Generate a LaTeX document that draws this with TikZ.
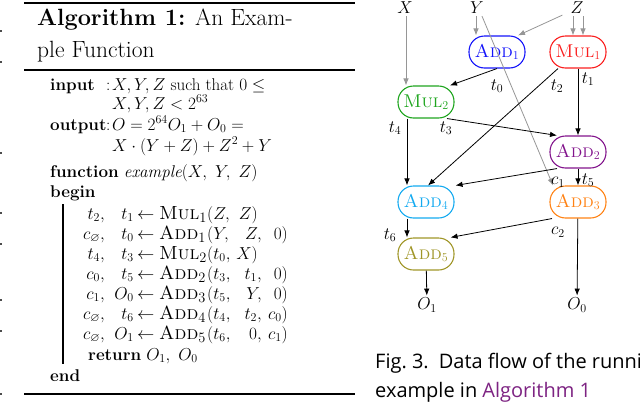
\documentclass[tikz,border=0pt]{standalone}
\usepackage{amssymb}
\usepackage{fontspec}
\newfontfamily\capfont{Open Sans}
\usetikzlibrary{arrows.meta,calc}
\definecolor{cadda}{RGB}{20,20,250}
\definecolor{cmula}{RGB}{250,30,30}
\definecolor{cmulb}{RGB}{30,165,30}
\definecolor{caddb}{RGB}{130,20,140}
\definecolor{caddc}{RGB}{255,130,20}
\definecolor{caddd}{RGB}{20,170,240}
\definecolor{cadde}{RGB}{160,150,40}
\definecolor{algpurple}{RGB}{125,35,130}
\definecolor{garr}{RGB}{150,150,150}
\tikzset{
  cb/.style={inner sep=0pt, font=\fontsize{17}{20}\selectfont},
  opname/.style={inner sep=0pt, font=\fontsize{19}{20}\selectfont},
  ttl/.style={inner sep=0pt, font=\fontsize{23.5}{27}\selectfont},
  opnode/.style={draw=#1, text=#1, line width=1.1pt, rounded corners=15.5pt,
     minimum width=56pt, minimum height=32pt, inner sep=0pt,
     font=\fontsize{18.5}{20}\selectfont},
  var/.style={inner sep=2pt, font=\fontsize{17}{20}\selectfont},
  lbl/.style={inner sep=0pt, font=\fontsize{17}{20}\selectfont},
  barr/.style={line width=0.8pt, -{Latex[length=7pt,width=5.5pt]}},
  garrow/.style={line width=0.8pt, draw=garr, -{Latex[length=7pt,width=5.5pt]}},
  rule/.style={line width=1.6pt},
  edgemark/.style={fill=black!70, draw=none},
}
% #1 name, #2 baseline, #3 col1, #4 col2, #5 op, #6 arg1, #7 arg2, #8 arg3, #9 right edge of arg2
\newcommand\coderow[9]{%
  \node[cb,anchor=base east] (#1a) at (105,#2) {#3};
  \node[cb,anchor=base east] (#1b) at (134,#2) {#4};
  \node[cb,anchor=base west] (#1c) at (137,#2) {$\leftarrow$};
  \node[opname,anchor=base west] (#1d) at (159,#2) {#5};
  \node[cb,anchor=base west] (#1e) at (207,#2) {$(#6$};
  \node[cb,anchor=base east] (#1f) at (#9,#2) {#7};
  \node[cb,anchor=base east] (#1g) at (288,#2) {#8};
}
\begin{document}
\begin{tikzpicture}[x=1pt,y=-1pt]
\useasboundingbox (0,0) rectangle (640,402);
\clip (0,0) rectangle (640,402);
% page edge marks
\foreach \yy in {30,61,152,212,243,299,330,393}{
  \fill[edgemark] (0,\yy) rectangle (2,\yy+1.5);
}
% ---------- algorithm ----------
\draw[rule] (24,3) -- (355,3);
\draw[rule] (24,70) -- (355,70);
\draw[rule] (24,394) -- (355,394);
\node[ttl,anchor=base west] (t1) at (37,25) {\textbf{Algorithm 1:} An Exam-};
\node[ttl,anchor=base west] (t2) at (37,57) {ple Function};

\node[cb,anchor=base west] (in) at (50,90) {\textbf{input}};
\node[cb,anchor=base west] (inc) at (106,90) {:};
\node[cb,anchor=base west] (ina) at (112,90) {$X, Y, Z$ such that $0 \leq$};
\node[cb,anchor=base west] (inb) at (112,109) {$X, Y, Z < 2^{63}$};
\node[cb,anchor=base west] (out) at (50,130) {\textbf{output}};
\node[cb,anchor=base west] (outc) at (106,130) {:};
\node[cb,anchor=base west] (outa) at (112,130) {$O = 2^{64}O_1 + O_0 =$};
\node[cb,anchor=base west] (outb) at (112,151) {$X\cdot(Y+Z)+Z^2+Y$};
\node[cb,anchor=base west] (fn) at (50,177) {\textbf{function} \textit{example}$(X,\ Y,\ Z)$};
\node[cb,anchor=base west] (bg) at (50,197) {\textbf{begin}};
\draw[line width=1.1pt] (63,204) -- (63,364);
\coderow{ra}{219}{$t_2,$}{$t_1$}{\textsc{Mul}$_1$}{Z,}{$Z)$}{}{258}
\coderow{rb}{239}{$c_\varnothing,$}{$t_0$}{\textsc{Add}$_1$}{Y,}{$Z,$}{$0)$}{262}
\coderow{rc}{259}{$t_4,$}{$t_3$}{\textsc{Mul}$_2$}{t_0,}{$X)$}{}{258}
\coderow{rd}{279}{$c_0,$}{$t_5$}{\textsc{Add}$_2$}{t_3,}{$t_1,$}{$0)$}{262}
\coderow{re}{299}{$c_1,$}{$O_0$}{\textsc{Add}$_3$}{t_5,}{$Y,$}{$0)$}{262}
\coderow{rf}{319}{$c_\varnothing,$}{$t_6$}{\textsc{Add}$_4$}{t_4,}{$t_2,$}{$c_0)$}{262}
\coderow{rg}{339}{$c_\varnothing,$}{$O_1$}{\textsc{Add}$_5$}{t_6,}{$0,$}{$c_1)$}{262}
\node[cb,anchor=base west] (ret) at (88,360) {\textbf{return} $O_1,\ O_0$};
\node[cb,anchor=base west] (en) at (50,381) {\textbf{end}};

% ---------- data flow graph ----------
\node[var] (X) at (405,8) {$X$};
\node[var] (Y) at (477,8) {$Y$};
\node[var] (Z) at (577,8) {$Z$};
\node[opnode=cadda] (Add1) at (497,52) {\textsc{Add}$_1$};
\node[opnode=cmula] (Mul1) at (578,52) {\textsc{Mul}$_1$};
\node[opnode=cmulb] (Mul2) at (426,102) {\textsc{Mul}$_2$};
\node[opnode=caddb] (Add2) at (578,152) {\textsc{Add}$_2$};
\node[opnode=caddd] (Add4) at (426,202) {\textsc{Add}$_4$};
\node[opnode=caddc] (Add3) at (578,202) {\textsc{Add}$_3$};
\node[opnode=cadde] (Add5) at (426,254) {\textsc{Add}$_5$};
\node[var] (O1) at (427,305) {$O_1$};
\node[var] (O0) at (577,305) {$O_0$};

% gray input arrows
\draw[garrow] ([xshift=1]X.south) -- ([xshift=1]X.south |- Mul2.north);
\draw[garrow] ([xshift=-1]Y.south) -- ([xshift=-1]Y.south |- Add1.north);
\draw[garrow] ([xshift=5]Y.south) -- ([xshift=-25]Add3.north);
\draw[garrow] ([xshift=-6,yshift=1]Z.south west) -- ([xshift=21]Add1.north);
\draw[garrow] ([xshift=-4]Z.south) -- ([xshift=-5]Mul1.north);
\draw[garrow] ([xshift=6]Z.south) -- ([xshift=5]Mul1.north);

% black data arrows
\draw[barr] (Add1.south) -- ([xshift=24]Mul2.north);
\draw[barr] ([xshift=-20]Mul1.south) -- ([xshift=2]Add4.north);
\draw[barr] (Mul1) -- (Add2);
\draw[barr] ([xshift=21]Mul2.south) -- ([xshift=-21]Add2.north);
\draw[barr] ([xshift=-19]Mul2.south) -- ([xshift=-19]Add4.north);
\draw[barr] ([xshift=-21]Add2.south) -- ([xshift=1]Add4.north east);
\draw[barr] (Add2) -- (Add3);
\draw[barr] ([xshift=-26]Add3.south) -- ([xshift=-4]Add5.north east);
\draw[barr] (Add3) -- (O0);
\draw[barr] ([xshift=-19]Add4.south) -- ([xshift=-19]Add5.north);
\draw[barr] (Add5) -- (O1);

% edge labels
\node[lbl] (lt0) at (497,86) {$t_0$};
\node[lbl] (lt1) at (588,79) {$t_1$};
\node[lbl] (lt2) at (557,86) {$t_2$};
\node[lbl] (lt3) at (446,128) {$t_3$};
\node[lbl] (lt4) at (395,128) {$t_4$};
\node[lbl] (lt5) at (588,180) {$t_5$};
\node[lbl] (lc1) at (558,182) {$c_1$};
\node[lbl] (lc2) at (558,232) {$c_2$};
\node[lbl] (lt6) at (390,235) {$t_6$};

% caption
\node[inner sep=0pt,anchor=base west,font=\capfont\fontsize{20}{24}\selectfont] (cap1) at (375,368) {Fig.\ 3.\hspace{10pt}Data flow of the running};
\node[inner sep=0pt,anchor=base west,font=\capfont\fontsize{20}{24}\selectfont] (cap2) at (375,397) {example in \textcolor{algpurple}{Algorithm 1}};
\end{tikzpicture}
\end{document}
